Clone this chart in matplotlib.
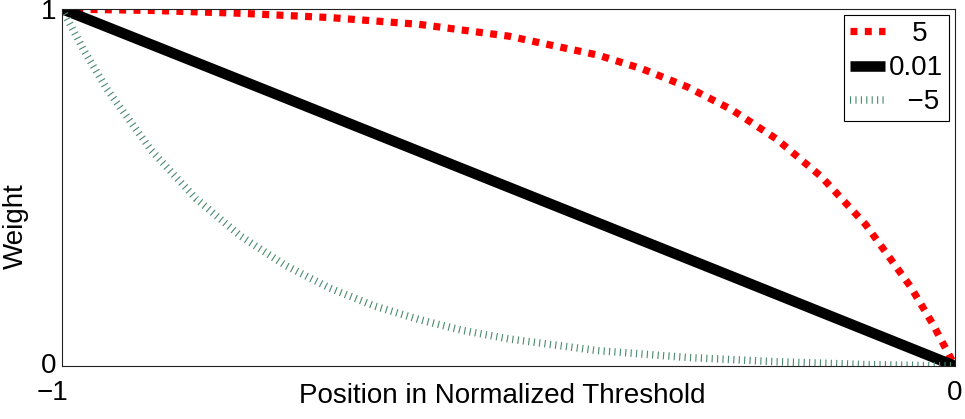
import matplotlib
matplotlib.use("Agg")
import matplotlib.pyplot as plt
from matplotlib.transforms import ScaledTranslation

# ---- data ----
pos_5 = [-1.0, -0.9, -0.8, -0.7, -0.6, -0.5, -0.4, -0.35, -0.3, -0.25, -0.2, -0.15, -0.1, -0.05, -0.025, 0.0]
w_5 = [1.0, 0.996, 0.988, 0.976, 0.957, 0.924, 0.871, 0.832, 0.782, 0.718, 0.636, 0.531, 0.396, 0.223, 0.118, 0.0]

pos_001 = [-1.0, -0.75, -0.5, -0.25, 0.0]
w_001 = [1.0, 0.751, 0.501, 0.251, 0.0]

pos_m5 = [-1.0, -0.975, -0.95, -0.9, -0.85, -0.8, -0.75, -0.7, -0.65, -0.6, -0.55, -0.5, -0.4, -0.3, -0.2, -0.1, 0.0]
w_m5 = [1.0, 0.882, 0.777, 0.604, 0.469, 0.364, 0.282, 0.218, 0.168, 0.130, 0.099, 0.076, 0.043, 0.024, 0.012, 0.004, 0.0]

labels = ["5", "0.01", "\u22125"]
xtick_vals = [-1, 0]
xtick_labels = ["\u22121", "0"]
ytick_vals = [0, 1]
ytick_labels = ["0", "1"]

plt.rcParams["font.family"] = ["Liberation Sans", "DejaVu Sans"]
plt.rcParams["lines.scale_dashes"] = False
FS = 20

W, H = 965, 419
fig = plt.figure(figsize=(W / 100, H / 100), dpi=100)
ax = fig.add_axes([62 / W, 1 - 366 / H, 893 / W, 357 / H])

l1, = ax.plot(pos_5, w_5, color="#ff0000", lw=5.2, dashes=(5.0, 5.3),
              dash_capstyle="butt")
l2, = ax.plot(pos_001, w_001, color="black", lw=7.6, solid_capstyle="butt")
l3, = ax.plot(pos_m5, w_m5, color="#4a8a70", lw=5.4, dashes=(0.8, 3.1),
              dash_capstyle="butt")

ax.set_xlim(-1, 0)
ax.set_ylim(0, 1)
ax.set_xticks(xtick_vals)
ax.set_xticklabels(xtick_labels)
ax.set_yticks(ytick_vals)
ax.set_yticklabels(ytick_labels)
ax.tick_params(axis="both", length=0, labelsize=FS)
ax.tick_params(axis="x", pad=10)
ax.tick_params(axis="y", pad=4)
for s in ax.spines.values():
    s.set_linewidth(0.8)
    s.set_color("#222222")

# shift the -1 label slightly left, and the y "0" label slightly up, as in reference
lab0 = ax.get_xticklabels()[0]
lab0.set_transform(lab0.get_transform() + ScaledTranslation(-10 / 100, 0, fig.dpi_scale_trans))
ylab0 = ax.get_yticklabels()[0]
ylab0.set_transform(ylab0.get_transform() + ScaledTranslation(0, 3 / 100, fig.dpi_scale_trans))

ax.set_xlabel("Position in Normalized Threshold", fontsize=FS, va="baseline")
ax.xaxis.set_label_coords(502.5 / W, 1 - 403 / H, transform=fig.transFigure)
ax.set_ylabel("Weight", fontsize=FS, va="center", ha="center", rotation_mode="default")
ax.yaxis.set_label_coords(16 / W, 1 - 226.5 / H, transform=fig.transFigure)

pad_labels = ["\u2002\u2004" + labels[0], labels[1], "\u2002\u2006" + labels[2]]
leg = ax.legend([l1, l2, l3], pad_labels, loc="upper right", fontsize=FS,
                frameon=True, fancybox=False, framealpha=1, edgecolor="black",
                borderaxespad=0.22, borderpad=0.22, labelspacing=0.29,
                handlelength=1.26, handletextpad=0.14)
leg.get_frame().set_linewidth(0.8)

fig.savefig("out.png", dpi=100)
